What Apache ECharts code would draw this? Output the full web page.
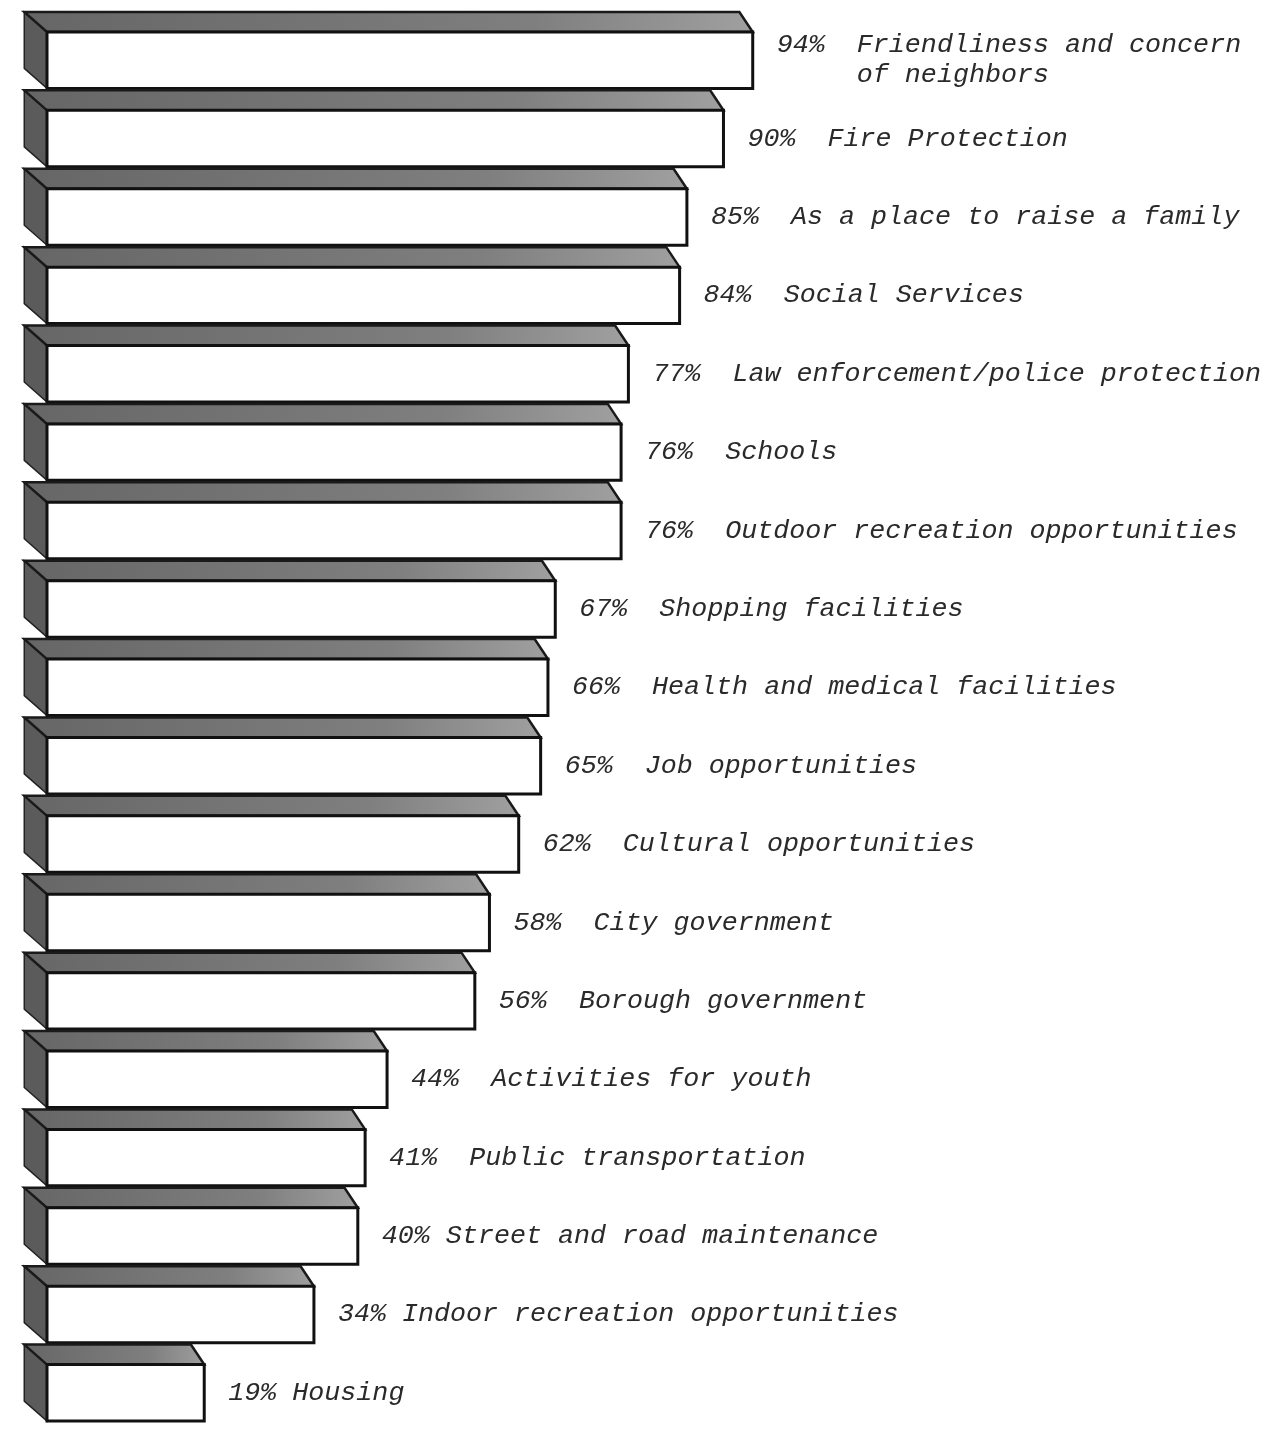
<!DOCTYPE html>
<html>
<head>
<meta charset="utf-8">
<script src="https://cdn.jsdelivr.net/npm/echarts@6/dist/echarts.min.js"></script>
<style>
html,body{margin:0;padding:0;background:#fff;}
#chart{width:1268px;height:1432px;}
</style>
</head>
<body>
<div id="chart"></div>
<script>
const categories = [
  'Friendliness and concern\nof neighbors',
  'Fire Protection',
  'As a place to raise a family',
  'Social Services',
  'Law enforcement/police protection',
  'Schools',
  'Outdoor recreation opportunities',
  'Shopping facilities',
  'Health and medical facilities',
  'Job opportunities',
  'Cultural opportunities',
  'City government',
  'Borough government',
  'Activities for youth',
  'Public transportation',
  'Street and road maintenance',
  'Indoor recreation opportunities',
  'Housing'
];
const percents = [94, 90, 85, 84, 77, 76, 76, 67, 66, 65, 62, 58, 56, 44, 41, 40, 34, 19];
const labelGaps = [2, 2, 2, 2, 2, 2, 2, 2, 2, 2, 2, 2, 2, 2, 2, 1, 1, 1];

const chart = echarts.init(document.getElementById('chart'), null, {renderer: 'canvas'});

const data = percents.map((v, i) => [v, i]);

function renderItem(params, api) {
  const cs = params.coordSys;
  const i = api.value(1);
  const v = api.value(0);
  const end = api.coord([v, i]);
  const band = api.size([0, 1])[1];
  const cy = end[1];
  const xr = end[0];
  const x0 = cs.x;
  const faceH = band * 0.72;
  const depth = band * 0.255;
  const dxL = band * 0.29;
  const dxR = band * 0.17;
  const yt = cy - faceH / 2;
  const yb = cy + faceH / 2;

  const prefix = v + '%' + ' '.repeat(labelGaps[i]);
  const name = categories[i].replace(/\n/g, '\n' + ' '.repeat(prefix.length));
  const text = prefix + name;

  return {
    type: 'group',
    children: [
      {
        type: 'polygon',
        shape: {points: [[x0 - dxL, yt - depth], [x0, yt], [x0, yb], [x0 - dxL, yb - depth]]},
        style: {fill: '#5b5b5b', stroke: '#222', lineWidth: 1.5}
      },
      {
        type: 'polygon',
        shape: {points: [[x0 - dxL, yt - depth], [xr - dxR, yt - depth], [xr, yt], [x0, yt]]},
        style: {
          fill: new echarts.graphic.LinearGradient(0, 0, 1, 1, [
            {offset: 0, color: '#666666'},
            {offset: 0.7, color: '#7f7f7f'},
            {offset: 1, color: '#a0a0a0'}
          ]),
          stroke: '#1a1a1a', lineWidth: 2.5
        }
      },
      {
        type: 'rect',
        shape: {x: x0, y: yt, width: xr - x0, height: yb - yt},
        style: {fill: '#ffffff', stroke: '#111', lineWidth: 3}
      },
      {
        type: 'text',
        style: {
          x: xr + 24,
          y: cy,
          text: text,
          fill: '#2a2a2a',
          font: 'italic 26.7px "Liberation Mono", "DejaVu Sans Mono", monospace',
          verticalAlign: 'middle',
          align: 'left',
          lineHeight: 30
        }
      }
    ]
  };
}

chart.setOption({
  animation: false,
  backgroundColor: '#ffffff',
  grid: {left: 47, top: 21, width: 969, height: 1420, containLabel: false},
  xAxis: {
    type: 'value', min: -2.5, max: 130,
    show: false
  },
  yAxis: {
    type: 'category', inverse: true,
    data: categories,
    show: false
  },
  series: [{
    type: 'custom',
    renderItem: renderItem,
    encode: {x: 0, y: 1},
    data: data,
    clip: false
  }]
});
</script>
</body>
</html>
